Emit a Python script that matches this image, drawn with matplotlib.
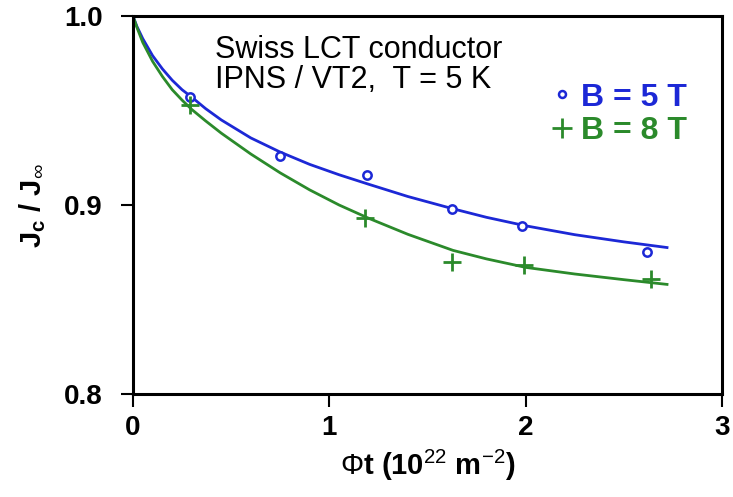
import matplotlib
matplotlib.use("Agg")
import matplotlib.pyplot as plt
from matplotlib.lines import Line2D

# measured points
x_5t = [0.29, 0.75, 1.19, 1.625, 1.98, 2.62]
y_5t = [0.957, 0.926, 0.916, 0.898, 0.889, 0.875]
x_8t = [0.29, 1.18, 1.625, 1.99, 2.64]
y_8t = [0.953, 0.893, 0.870, 0.868, 0.861]

# fitted curves
fit_x = [0.0, 0.02, 0.05, 0.1, 0.15, 0.2, 0.25, 0.3, 0.37, 0.45, 0.6, 0.75,
         0.9, 1.05, 1.2, 1.4, 1.63, 1.8, 2.0, 2.25, 2.5, 2.72]
fit_5t = [1.0, 0.9945, 0.988, 0.979, 0.972, 0.966, 0.961, 0.957, 0.951,
          0.945, 0.9355, 0.928, 0.9215, 0.916, 0.911, 0.9045, 0.898, 0.8935,
          0.889, 0.8843, 0.8805, 0.8775]
fit_8t = [1.0, 0.994, 0.986, 0.976, 0.968, 0.961, 0.9555, 0.9505, 0.9445,
          0.938, 0.927, 0.917, 0.908, 0.900, 0.893, 0.8845, 0.876, 0.8715,
          0.867, 0.8635, 0.8605, 0.858]

x_ticks = [0, 1, 2, 3]
y_ticks = [0.8, 0.9, 1.0]

BLUE = "#1c28d6"
GREEN = "#2b8a2b"

plt.rcParams["font.family"] = ["Liberation Sans", "DejaVu Sans"]
plt.rcParams["mathtext.fontset"] = "custom"
plt.rcParams["mathtext.rm"] = "Liberation Sans"
plt.rcParams["mathtext.bf"] = "Liberation Sans:bold"

fig = plt.figure(figsize=(7.33, 4.97), dpi=100)
ax = fig.add_axes([0.1814, 0.2072, 0.8036, 0.7606])

ax.plot(fit_x, fit_5t, color=BLUE, lw=2.0)
ax.plot(fit_x, fit_8t, color=GREEN, lw=2.0)
ax.plot(x_5t, y_5t, "o", color=BLUE, mfc="white", mec=BLUE, ms=6, mew=1.8)
ax.plot(x_8t, y_8t, "+", color=GREEN, ms=13, mew=2.0)

ax.set_xlim(0, 3)
ax.set_ylim(0.8, 1.0)
ax.set_xticks(x_ticks)
ax.set_xticklabels([str(v) for v in x_ticks])
ax.set_yticks(y_ticks)
ax.set_yticklabels([f"{v:.1f}" for v in y_ticks])
ax.tick_params(direction="out", length=9, width=1.5, labelsize=20)
ax.tick_params(axis="y", pad=13)
ax.tick_params(axis="x", pad=6)
for lab in ax.get_xticklabels() + ax.get_yticklabels():
    lab.set_fontweight("bold")
for sp in ax.spines.values():
    sp.set_linewidth(2.2)

ax.set_xlabel(r"$\Phi$t (10$^{22}$ m$^{-2}$)", fontsize=21, labelpad=5,
              fontweight="bold")
ax.set_ylabel(r"J$_\mathregular{c}$ / J$_\infty$", fontsize=21, labelpad=11,
              fontweight="bold")

ax.text(0.42, 0.978, "Swiss LCT conductor", fontsize=22, va="baseline")
ax.text(0.42, 0.962, "IPNS / VT2,  T = 5 K", fontsize=22, va="baseline")

handles = [
    Line2D([0], [0], marker="o", ls="", color=BLUE, mfc="white", ms=5, mew=1.8),
    Line2D([0], [0], marker="+", ls="", color=GREEN, ms=14, mew=2.0),
]
leg = ax.legend(handles, ["B = 5 T", "B = 8 T"], loc="upper right",
                bbox_to_anchor=(0.99, 0.9), frameon=False, handlelength=0.6,
                handletextpad=0.3, labelspacing=0.1,
                prop={"size": 23, "weight": "bold"})
for txt, c in zip(leg.get_texts(), [BLUE, GREEN]):
    txt.set_color(c)

fig.savefig("out.png", dpi=100)
